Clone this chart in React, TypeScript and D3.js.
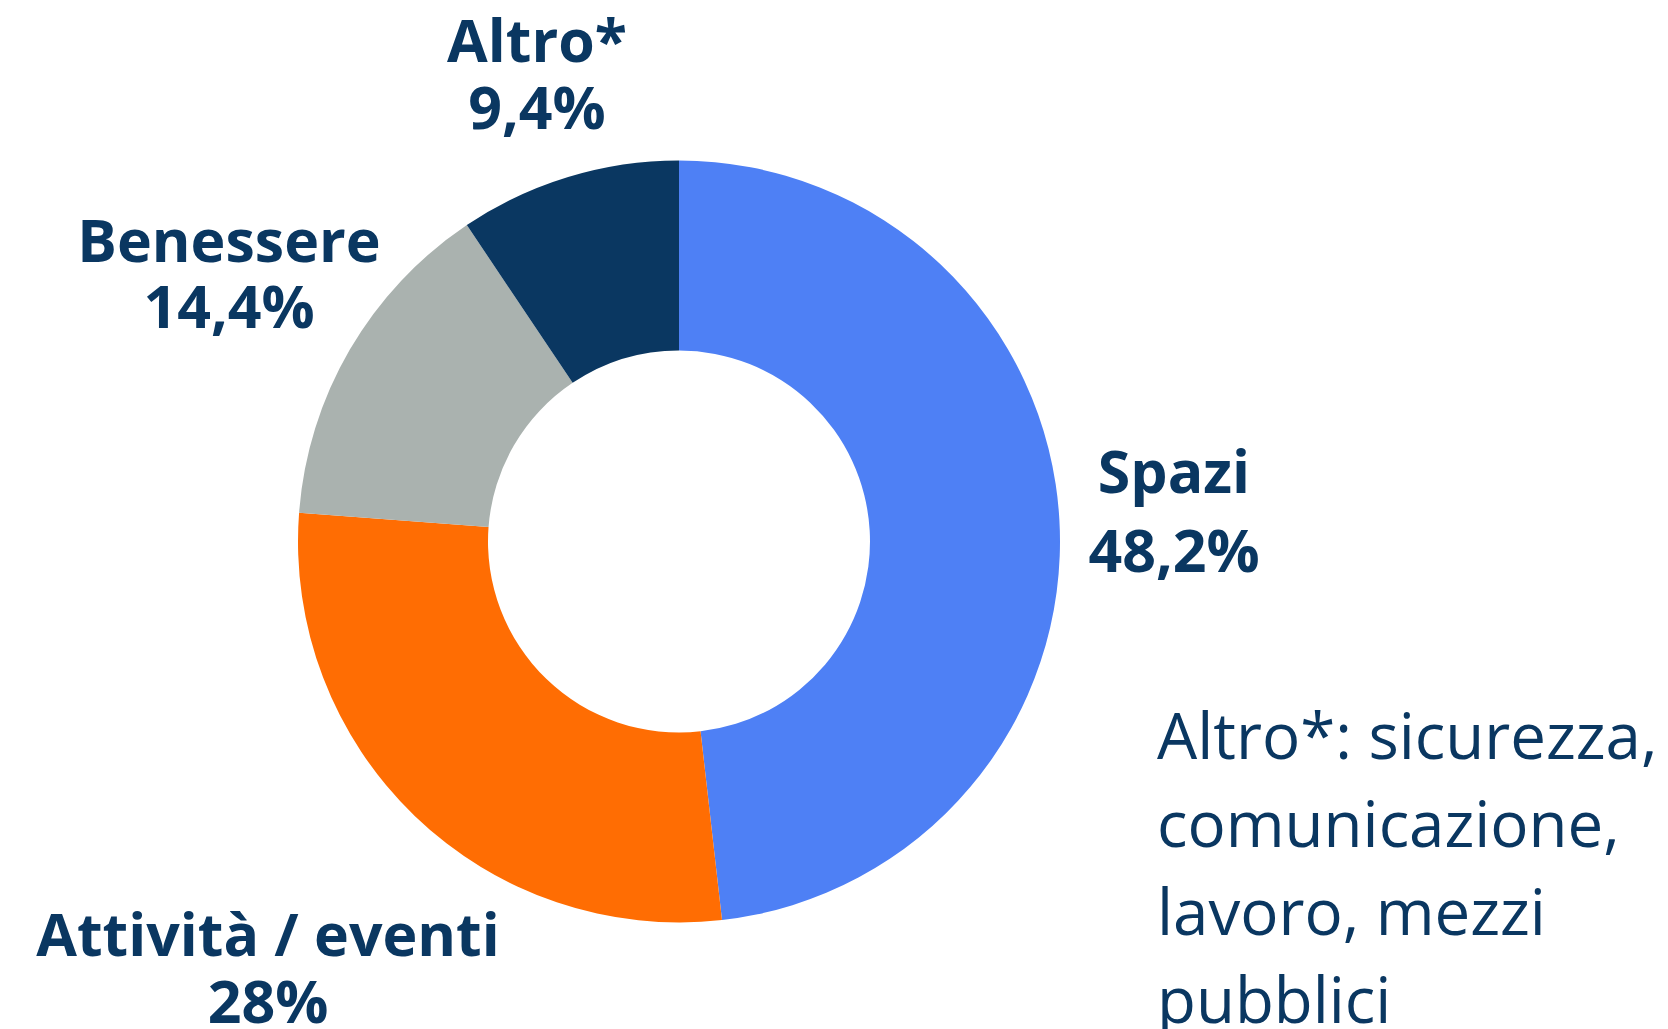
import React from "react";
import * as d3 from "d3";

// quote per ambito (%), in senso orario da ore 12
const categories = ["Spazi", "Attività / eventi", "Benessere", "Altro*"];
const shares = [48.2, 28, 14.4, 9.4];
const shareLabels = ["48,2%", "28%", "14,4%", "9,4%"];
const colors = ["#4E80F5", "#FF6D03", "#AAB2AF", "#0A3761"];
const footnoteLines = ["Altro*: sicurezza,", "comunicazione,", "lavoro, mezzi", "pubblici"];

const W = 1668;
const H = 1029;
const cx = 679;
const cy = 541.5;
const outerR = 381;
const innerR = 191;
const navy = "#0A3761";

// dove stanno le etichette (baseline prima riga, distanza righe)
const labelLayout: Record<string, { x: number; y: number; gap: number }> = {
  Spazi: { x: 1174, y: 493, gap: 79 },
  "Attività / eventi": { x: 268, y: 956, gap: 67 },
  Benessere: { x: 229, y: 262, gap: 66 },
  "Altro*": { x: 537, y: 62, gap: 67 },
};

export default function App() {
  const rows = categories.map((c, i) => ({ name: c, value: shares[i], label: shareLabels[i], color: colors[i] }));

  const pie = d3
    .pie<any>()
    .sort(null)
    .value((d) => d.value);

  const arc = d3.arc<any>().innerRadius(innerR).outerRadius(outerR);

  const arcs = pie(rows);

  return (
    <svg
      width={W}
      height={H}
      style={{ position: "absolute", left: 0, top: 0, background: "#fff" }}
      fontFamily="'Open Sans', sans-serif"
    >
      <g transform={`translate(${cx},${cy})`}>
        {arcs.map((a, i) => (
          <path key={i} d={arc(a) as string} fill={a.data.color} />
        ))}
      </g>
      {rows.map((r) => {
        const pos = labelLayout[r.name];
        return (
          <g key={r.name} fontWeight={700} fontSize={59} fill={navy} textAnchor="middle">
            <text x={pos.x} y={pos.y}>
              {r.name}
            </text>
            <text x={pos.x} y={pos.y + pos.gap}>
              {r.label}
            </text>
          </g>
        );
      })}
      <g fontSize={63.6} fill={navy}>
        {footnoteLines.map((l, i) => (
          <text key={i} x={1157} y={759 + i * 88}>
            {l}
          </text>
        ))}
      </g>
    </svg>
  );
}
